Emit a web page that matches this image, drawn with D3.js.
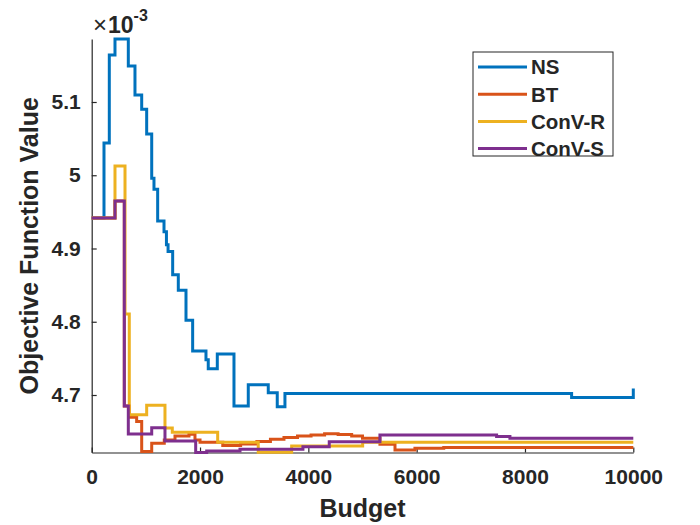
<!DOCTYPE html>
<html>
<head>
<meta charset="utf-8">
<script src="https://cdn.jsdelivr.net/npm/d3@7/dist/d3.min.js"></script>
<style>
  body { margin: 0; background: #fff; }
  svg { display: block; }
  text { font-family: "Liberation Sans", Arial, sans-serif; fill: #262626; }
</style>
</head>
<body>
<svg></svg>
<script>
// valores del eje y en unidades de 1e-3 (el grafico muestra x10^-3 arriba)
const budgetNS = [0, 227, 325, 430, 676, 799, 923, 1015, 1108, 1150, 1218, 1335, 1380, 1410, 1495, 1599, 1741, 1864, 2110, 2152, 2319, 2627, 2891, 3260, 3426, 3568, 8861, 10000];
const valueNS  = [4.9416, 5.044, 5.164, 5.186, 5.149, 5.1096, 5.090, 5.0563, 4.9958, 4.981, 4.9375, 4.923, 4.905, 4.896, 4.864, 4.843, 4.802, 4.760, 4.748, 4.736, 4.756, 4.685, 4.714, 4.703, 4.684, 4.702, 4.6966, 4.709];

const budgetBT = [0, 430, 602, 694, 830, 923, 1108, 1340, 1538, 1796, 1907, 2000, 2420, 2750, 3050, 3300, 3550, 3800, 4050, 4300, 4550, 4800, 5000, 5322, 5600, 5968, 6500, 10000];
const valueBT  = [4.9416, 4.965, 4.685, 4.6695, 4.6637, 4.6228, 4.634, 4.6386, 4.644, 4.6463, 4.6386, 4.6354, 4.6310, 4.6330, 4.6365, 4.6395, 4.6420, 4.6440, 4.6455, 4.6470, 4.6460, 4.6440, 4.6410, 4.6327, 4.6249, 4.6272, 4.6282, 4.6282];

const budgetCR = [0, 430, 615, 694, 1015, 1353, 1488, 2326, 3075, 3692, 5003, 10000];
const valueCR  = [4.9416, 5.0126, 4.8106, 4.673, 4.686, 4.655, 4.649, 4.6354, 4.6218, 4.6303, 4.6354, 4.6354];

const budgetCS = [0, 430, 602, 676, 1108, 1353, 1920, 2123, 2738, 3900, 4386, 5322, 7476, 7722, 10000];
const valueCS  = [4.9416, 4.965, 4.685, 4.6467, 4.6553, 4.6372, 4.6215, 4.6235, 4.626, 4.6294, 4.6363, 4.6454, 4.6435, 4.641, 4.641];

const seriesNames  = ["NS", "BT", "ConV-R", "ConV-S"];
const seriesColors = ["#0072BD", "#D95319", "#EDB120", "#7E2F8E"];

const xTicks = [0, 2000, 4000, 6000, 8000, 10000];
const yTicks = [4.7, 4.8, 4.9, 5, 5.1];

function toPoints(budget, value) {
  return budget.map(function(b, i) { return { budget: b, value: value[i] }; });
}

const series = [
  toPoints(budgetNS, valueNS),
  toPoints(budgetBT, valueBT),
  toPoints(budgetCR, valueCR),
  toPoints(budgetCS, valueCS)
];

const svgWidth = 700, svgHeight = 525;
const margin = { top: 39, right: 66.7, bottom: 72.5, left: 91.7 };
const width = svgWidth - margin.left - margin.right;
const height = svgHeight - margin.top - margin.bottom;

const svg = d3.select("svg")
  .attr("width", svgWidth)
  .attr("height", svgHeight);

const g = svg.append("g")
  .attr("transform", "translate(" + margin.left + "," + margin.top + ")");

// ejes ajustados a los datos (como axis tight)
const allValues = [].concat(valueNS, valueBT, valueCR, valueCS);
const x = d3.scaleLinear().domain([0, 10000]).range([0, width]);
const y = d3.scaleLinear().domain(d3.extent(allValues)).range([height, 0]);

const line = d3.line()
  .curve(d3.curveStepAfter)
  .x(function(d) { return x(d.budget); })
  .y(function(d) { return y(d.value); });

// eje x
const xAxis = g.append("g")
  .attr("transform", "translate(0," + height + ")")
  .call(d3.axisBottom(x).tickValues(xTicks).tickFormat(d3.format("d"))
    .tickSizeInner(-5).tickSizeOuter(0).tickPadding(17));

// eje y
const yAxis = g.append("g")
  .call(d3.axisLeft(y).tickValues(yTicks).tickFormat(function(d) { return String(d); })
    .tickSizeInner(-5).tickSizeOuter(0).tickPadding(11));

[xAxis, yAxis].forEach(function(ax) {
  ax.select(".domain").attr("stroke", "#262626").attr("stroke-width", 1.2);
  ax.selectAll(".tick line").attr("stroke", "#262626").attr("stroke-width", 1.2);
  ax.selectAll(".tick text")
    .attr("fill", "#262626")
    .style("font-family", '"Liberation Sans", Arial, sans-serif')
    .style("font-size", "21px")
    .style("font-weight", "bold");
});

// lineas escalonadas
g.selectAll(".serie")
  .data(series)
  .enter().append("path")
  .attr("class", "serie")
  .attr("fill", "none")
  .attr("stroke", function(d, i) { return seriesColors[i]; })
  .attr("stroke-width", 3)
  .attr("stroke-linejoin", "miter")
  .attr("d", line);

// etiquetas de los ejes
svg.append("text")
  .attr("x", margin.left + width / 2)
  .attr("y", 517)
  .attr("text-anchor", "middle")
  .style("font-size", "25px")
  .style("font-weight", "bold")
  .text("Budget");

svg.append("text")
  .attr("transform", "translate(38," + (margin.top + height / 2) + ") rotate(-90)")
  .attr("text-anchor", "middle")
  .style("font-size", "25px")
  .style("font-weight", "bold")
  .text("Objective Function Value");

// multiplicador x10^-3
const expo = svg.append("text")
  .attr("x", 93)
  .attr("y", 33);
expo.append("tspan").style("font-size", "24px").text("\u00d7");
expo.append("tspan").attr("dx", 1).style("font-size", "23px").style("font-weight", "bold").text("10");
expo.append("tspan").attr("dy", -12).style("font-size", "16px").style("font-weight", "bold").text("-3");

// leyenda
const legend = svg.append("g");
legend.append("rect")
  .attr("x", 473).attr("y", 52)
  .attr("width", 140).attr("height", 104)
  .attr("fill", "#fff")
  .attr("stroke", "#262626")
  .attr("stroke-width", 1);

const items = legend.selectAll(".item")
  .data(seriesNames)
  .enter().append("g")
  .attr("class", "item")
  .attr("transform", function(d, i) { return "translate(0," + (67 + i * 27.2) + ")"; });

items.append("line")
  .attr("x1", 478).attr("x2", 527)
  .attr("stroke", function(d, i) { return seriesColors[i]; })
  .attr("stroke-width", 3);

items.append("text")
  .attr("x", 531)
  .attr("dy", "0.36em")
  .style("font-size", "20.5px")
  .style("font-weight", "bold")
  .text(function(d) { return d; });
</script>
</body>
</html>
